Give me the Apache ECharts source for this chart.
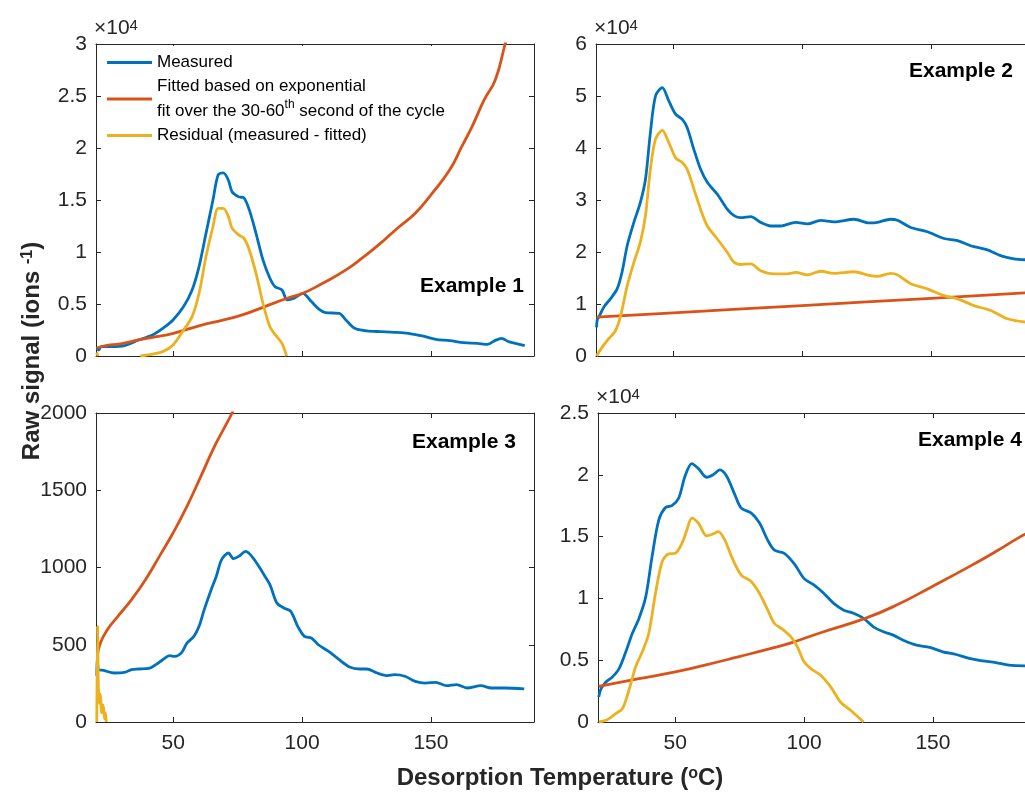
<!DOCTYPE html>
<html><head><meta charset="utf-8">
<script src="https://cdn.jsdelivr.net/npm/echarts@6/dist/echarts.min.js"></script>
<style>html,body{margin:0;padding:0;background:#fff}#c{width:1025px;height:792px}</style>
</head><body><div id="c"></div>
<script>
// ---------- data (temperature °C, raw signal ions/s) ----------
const xTicks = [50, 100, 150];
const panelTitles = ['Example 1', 'Example 2', 'Example 3', 'Example 4'];
const yMaxes = [30000, 60000, 2000, 25000];
const yIntervals = [5000, 10000, 500, 5000];

const ex1Measured = [[20.3,740],[21,560],[22,900],[25.8,900],[31,1000],[36.5,1540],[41.9,2020],[45.9,2660],[49.9,3470],[54,4750],[57.3,6350],[60,8600],[62.7,11800],[65.4,15000],[67.4,17400],[69.4,17600],[71.4,16900],[72.8,15800],[75.4,15300],[77.4,15200],[79.5,14050],[82.1,11800],[84.8,9240],[87.5,7480],[89.5,6670],[92.2,6350],[94.2,5390],[96.9,5550],[100.3,6030],[103.6,5230],[106.5,4500],[109,4170],[114.4,4100],[117,3470],[120.4,2660],[125.1,2410],[130.5,2340],[135.8,2280],[141.2,2180],[146.6,1925],[151.9,1600],[157.3,1480],[162.7,1280],[168,1220],[172,1120],[174.8,1480],[177.4,1700],[180.1,1380],[182.8,1220],[186.4,1000]];
const ex1Fitted = [[20.2,750],[23,960],[30,1200],[36.5,1540],[42,1800],[50,2180],[60,2900],[70,3500],[76.8,3950],[85.5,4750],[94.2,5550],[100.3,6030],[108,7000],[117,8280],[124,9560],[130.5,10850],[137,12290],[143.9,13730],[150,15500],[157.3,17900],[162,20150],[166,22080],[170.7,24640],[175,26570],[178.8,30000],[180.5,31500]];
const ex1Residual = [[20.2,350],[20.8,0],[30,null],[37.2,0],[41.9,190],[45.9,420],[49.9,1060],[54,2500],[57.3,3790],[60,6030],[62.7,9560],[65.4,12450],[67.4,14200],[69.4,14200],[71.4,13400],[72.8,12300],[75.4,11650],[77.4,11330],[79.5,10200],[82.1,7960],[84.8,5070],[87.5,2820],[90.2,1860],[92.2,1220],[94,0]];

const ex2Measured = [[20.2,5500],[20.5,7000],[21.1,7480],[23,9390],[25.6,11000],[28.2,12900],[30.1,16100],[32.1,21200],[34.7,25700],[37.2,29500],[39.2,34000],[41.1,42900],[43.1,50000],[45.7,51600],[48.3,49000],[50.9,46500],[53.5,45500],[55.4,43900],[58,39700],[60.6,35900],[63.2,33400],[67.1,31100],[71,28200],[73.6,27000],[76.2,26600],[80.1,26800],[83.9,25700],[87.8,25000],[91.7,25000],[97.5,25700],[102.1,25400],[107.2,26100],[112.4,25800],[120.2,26300],[126,25600],[129.2,25700],[134.4,26300],[137,26100],[142.2,24700],[148.6,23900],[155.1,22600],[160.3,22200],[165.4,21200],[171.9,20400],[177,19300],[182.2,18700],[186.7,18500]];
const ex2Fitted = [[20.2,7480],[50,8300],[100,9700],[150,11100],[186.7,12140]];
const ex2Residual = [[20.2,0],[22.4,1700],[24.4,3000],[27.6,4900],[29.6,7800],[32.1,13500],[34.7,18000],[37.2,21900],[39.2,27000],[41.1,35900],[43.1,41700],[45.7,43400],[48.3,41000],[50.9,38100],[53.5,37200],[55.4,35900],[58,32100],[60.6,28200],[63.2,25000],[67.1,22500],[71,19900],[73.6,18000],[76.2,17600],[80.1,17700],[83.9,16400],[89.1,15800],[94.3,15800],[97.5,16100],[102.1,15600],[107.2,16300],[112.4,15900],[120.2,16200],[126,15500],[129.2,15300],[134.4,15900],[137,15600],[142.2,13900],[148.6,12900],[155.1,11600],[160.3,11000],[166.7,9700],[173.2,8750],[179.6,7160],[186.7,6520]];

const ex3Measured = [[20.3,300],[20.5,425],[21,339],[23,334],[27,317],[31,321],[33.8,339],[36.5,343],[40.5,347],[43.2,371],[45.9,403],[48.6,429],[50.6,425],[53.3,451],[55.3,511],[58,554],[60,619],[62,727],[64.7,856],[66.7,943],[68.7,1050],[71.4,1094],[73.4,1057],[75.4,1072],[78.1,1104],[81.5,1050],[84.8,964],[87.5,889],[90.2,770],[92.9,738],[95.6,716],[98.3,619],[100.9,554],[103.6,544],[106.3,500],[110.3,457],[114.4,403],[118.4,356],[122.4,343],[125.1,343],[129.1,317],[133.2,300],[135.8,306],[139.9,296],[143.9,263],[147.9,252],[151.9,257],[156,235],[160,242],[164,220],[169.4,235],[173.4,220],[178.8,220],[186.2,214]];
const ex3Fitted = [[20.5,425],[21.7,511],[24.4,597],[28.5,684],[33.8,792],[39.2,921],[44.6,1072],[49.9,1223],[55.3,1396],[60.7,1590],[66,1784],[70.1,1913],[72.8,2000],[74,2050]];
const ex3Residual = [[20.3,0],[20.6,620],[20.9,250],[21.3,120],[21.7,180],[22.2,60],[22.8,110],[23.3,20],[23.7,60],[24,0]];

const ex4Measured = [[20.3,2030],[21.2,2700],[23.1,3240],[25.6,3650],[28.2,4320],[30.8,5680],[33.3,7160],[35.9,8380],[38.5,10100],[41,13400],[43.6,16350],[46.2,17350],[48.7,17500],[51.3,18100],[53.8,19900],[56.4,20900],[59,20500],[62.2,19800],[64.7,20000],[67.3,20400],[69.9,19900],[73.1,18400],[75.6,17300],[79.5,16900],[82.7,16100],[85.9,14700],[88.5,13900],[92.3,13650],[96.2,12800],[100,11600],[103.8,11100],[107.7,10400],[111.5,9600],[115.4,9050],[119.2,8800],[123.1,8380],[126.9,7700],[130.8,7300],[134.6,7030],[138.5,6620],[143.6,6220],[148.7,6030],[153.8,5680],[159,5460],[164.1,5140],[169.2,4950],[174.4,4810],[179.5,4600],[186,4540]];
const ex4Fitted = [[20.3,2890],[35.9,3510],[50,4050],[61.5,4600],[74.4,5270],[87.2,5950],[94.9,6400],[106.4,7220],[123.7,8380],[135.9,9460],[149.6,10950],[164.1,12570],[174.4,13790],[184,15000],[187,15300]];
const ex4Residual = [[20.3,0],[23.1,135],[26.9,680],[29.5,1080],[32,2570],[34.6,4460],[37.2,5680],[39.7,7160],[42.3,10400],[44.9,12970],[47.4,13600],[50,13650],[52.6,14460],[54.5,15540],[56.4,16490],[59,16080],[62.2,15060],[64.7,15220],[66.7,15400],[69.2,14730],[72.4,13110],[75.6,11890],[79.5,11350],[82.7,10400],[85.9,9050],[88.5,7970],[91.7,7490],[94.9,6890],[97.4,6080],[100,4870],[102.6,4320],[106.4,3780],[110.3,2840],[114.1,1620],[118,950],[123.1,0]];

const measuredSets = [ex1Measured, ex2Measured, ex3Measured, ex4Measured];
const fittedSets = [ex1Fitted, ex2Fitted, ex3Fitted, ex4Fitted];
const residualSets = [ex1Residual, ex2Residual, ex3Residual, ex4Residual];

// ---------- chart ----------
const F = '"Liberation Sans", Arial, Helvetica, sans-serif';
const AX = '#262626';
const BLUE = '#0072BD', ORANGE = '#D95319', YELLOW = '#EDB120';
const scaled = [true, true, false, true];

const grids = [
  {left: 96, top: 44, width: 438, height: 312},
  {left: 596, top: 44, width: 438, height: 312},
  {left: 96, top: 413, width: 438, height: 309},
  {left: 598, top: 413, width: 438, height: 309}
].map(g => Object.assign(g, {outerBoundsMode: 'none', containLabel: false}));

const xAxes = [], yAxes = [], series = [];
for (let i = 0; i < 4; i++) {
  ['bottom', 'top'].forEach(pos => {
    xAxes.push({
      type: 'value', gridIndex: i, position: pos, min: 20, max: 190,
      axisLine: {show: true, onZero: false, lineStyle: {color: AX, width: 1}},
      axisTick: {show: true, inside: true, length: 5, customValues: xTicks, lineStyle: {color: AX}},
      axisLabel: {show: pos === 'bottom' && i >= 2, customValues: xTicks, margin: 11,
        fontSize: 21, fontFamily: F, color: AX},
      splitLine: {show: false}
    });
  });
  ['left', 'right'].forEach(pos => {
    yAxes.push({
      type: 'value', gridIndex: i, position: pos, min: 0, max: yMaxes[i], interval: yIntervals[i],
      axisLine: {show: true, onZero: false, lineStyle: {color: AX, width: 1}},
      axisTick: {show: true, inside: true, length: 5, lineStyle: {color: AX}},
      axisLabel: {show: pos === 'left', fontSize: 21, fontFamily: F, color: AX, margin: 9,
        formatter: v => scaled[i] ? String(v / 10000) : String(v)},
      splitLine: {show: false},
      name: (pos === 'left' && scaled[i]) ? '×10{s|4}' : '',
      nameLocation: 'end', nameGap: 5,
      nameTextStyle: {align: 'left', verticalAlign: 'bottom', fontSize: 21, fontFamily: F, color: AX,
        padding: [0, 0, 0, -2],
        rich: {s: {fontSize: 15, fontFamily: F, color: AX, verticalAlign: 'top', lineHeight: 13}}}
    });
  });
  const common = {type: 'line', xAxisIndex: 2 * i, yAxisIndex: 2 * i, showSymbol: false, symbol: 'none',
    clip: true, connectNulls: false, animation: false};
  series.push(Object.assign({}, common, {name: 'Measured', data: measuredSets[i], smooth: 0.3,
    lineStyle: {color: BLUE, width: 2.8}, itemStyle: {color: BLUE}}));
  series.push(Object.assign({}, common, {name: 'Fitted', data: fittedSets[i], smooth: 0.5,
    lineStyle: {color: ORANGE, width: 2.8}, itemStyle: {color: ORANGE}}));
  series.push(Object.assign({}, common, {name: 'Residual', data: residualSets[i], smooth: 0.3,
    lineStyle: {color: YELLOW, width: 2.8}, itemStyle: {color: YELLOW}}));
}

const titlePos = [[420, 286], [909, 71], [412, 442], [918, 440]];
const graphics = panelTitles.map((t, i) => ({
  type: 'text', x: titlePos[i][0], y: titlePos[i][1], z: 100,
  style: {text: t, font: 'bold 21px ' + F, fill: '#000', textAlign: 'left', textVerticalAlign: 'middle'}
}));
graphics.push({
  type: 'text', x: 560, y: 778, z: 100,
  style: {text: 'Desorption Temperature ({s|o}C)', fontSize: 24, fontWeight: 'bold', fontFamily: F, fill: '#262626',
    align: 'center', verticalAlign: 'middle',
    rich: {s: {fontSize: 16, fontWeight: 'bold', fontFamily: F, fill: '#262626', verticalAlign: 'top', lineHeight: 12}}}
});
graphics.push({
  type: 'text', x: 32, y: 351, rotation: Math.PI / 2, z: 100,
  style: {text: 'Raw signal (ions {s|-1})', fontSize: 24, fontWeight: 'bold', fontFamily: F, fill: '#262626',
    align: 'center', verticalAlign: 'middle',
    rich: {s: {fontSize: 16, fontWeight: 'bold', fontFamily: F, fill: '#262626', verticalAlign: 'top', lineHeight: 12}}}
});

const option = {
  backgroundColor: '#fff',
  animation: false,
  grid: grids,
  xAxis: xAxes,
  yAxis: yAxes,
  legend: {
    data: ['Measured', 'Fitted', 'Residual'],
    orient: 'vertical', left: 102, top: 46, padding: [4, 6, 3, 5],
    backgroundColor: '#fff', borderWidth: 0, selectedMode: false,
    icon: 'rect', itemWidth: 45, itemHeight: 3, itemGap: -1,
    formatter: n => n === 'Measured' ? 'Measured'
      : n === 'Fitted' ? 'Fitted based on exponential\nfit over the 30-60{s|th} second of the cycle'
      : 'Residual (measured - fitted)',
    textStyle: {fontSize: 17, fontFamily: F, color: '#000', lineHeight: 25,
      rich: {s: {fontSize: 12, fontFamily: F, color: '#000', verticalAlign: 'top', lineHeight: 14}}}
  },
  graphic: graphics,
  series: series
};
const chart = echarts.init(document.getElementById('c'));
chart.setOption(option);
</script>
</body></html>
